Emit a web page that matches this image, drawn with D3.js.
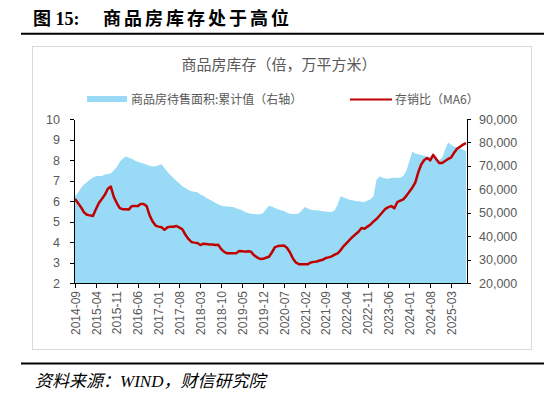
<!DOCTYPE html>
<html lang="zh-CN">
<head>
<meta charset="UTF-8">
<title>商品房库存处于高位</title>
<script src="https://d3js.org/d3.v7.min.js"></script>
<style>
    body { margin: 0; background: #fff; }
    svg { display: block; }
    .tick text { fill: #595959; font-family: "Liberation Sans", Arial, sans-serif; font-size: 12.5px; }
    .axis path, .axis line { stroke: #000; shape-rendering: crispEdges; }
</style>
</head>
<body>
<svg width="550" height="398"></svg>
<script>
// 月份：2014-09 至 2025-08
const startYear = 2014, startMonth = 9, monthCount = 132;
const months = d3.range(monthCount).map(i => {
    const m = startMonth - 1 + i;
    return (startYear + Math.floor(m / 12)) + "-" + String(m % 12 + 1).padStart(2, "0");
});

// 存销比（MA6），左轴，倍
const ratio = [
    6.10, 5.90, 5.70, 5.45, 5.33, 5.30, 5.27, 5.60, 5.90, 6.10,
    6.30, 6.60, 6.70, 6.20, 5.90, 5.65, 5.60, 5.60, 5.58, 5.75,
    5.76, 5.75, 5.85, 5.85, 5.75, 5.30, 5.00, 4.80, 4.75, 4.72,
    4.60, 4.72, 4.74, 4.74, 4.78, 4.70, 4.62, 4.35, 4.15, 4.00,
    3.97, 3.95, 3.85, 3.92, 3.90, 3.88, 3.88, 3.85, 3.86, 3.65,
    3.52, 3.45, 3.45, 3.45, 3.45, 3.56, 3.55, 3.53, 3.55, 3.52,
    3.35, 3.25, 3.17, 3.18, 3.23, 3.28, 3.50, 3.75, 3.80, 3.82,
    3.83, 3.72, 3.50, 3.20, 3.00, 2.92, 2.92, 2.92, 2.92, 3.00,
    3.03, 3.05, 3.10, 3.13, 3.22, 3.25, 3.30, 3.38, 3.45, 3.60,
    3.80, 3.95, 4.10, 4.25, 4.38, 4.50, 4.68, 4.65, 4.75, 4.85,
    5.00, 5.12, 5.28, 5.45, 5.62, 5.70, 5.75, 5.65, 5.95, 6.02,
    6.08, 6.25, 6.45, 6.65, 6.90, 7.40, 7.78, 8.00, 8.10, 7.98,
    8.25, 8.05, 7.85, 7.85, 7.95, 8.05, 8.12, 8.35, 8.55, 8.65,
    8.75, 8.82
];

// 商品房待售面积:累计值，右轴，万平方米
const area = [
    57000, 58500, 60500, 62000, 63000, 64200, 65000, 65600, 65700, 65700,
    66300, 66500, 66800, 68000, 69500, 71800, 73000, 74000, 73500, 73000,
    72300, 71800, 71300, 71000, 70500, 70000, 69700, 69800, 70300, 70700,
    69000, 67500, 66000, 64800, 63500, 62500, 61300, 60500, 59700, 59200,
    58900, 58700, 57800, 57200, 56400, 55600, 55000, 54200, 53600, 53000,
    52800, 52700, 52500, 52400, 51900, 51500, 51000, 50200, 49900, 49600,
    49400, 49300, 49300, 49900, 51500, 53000, 52600, 52000, 51500, 51000,
    50700, 50000, 49600, 49500, 49400, 49800, 51000, 52400, 51800, 51300,
    51100, 51000, 50800, 50600, 50500, 50300, 50300, 51000, 53500, 57000,
    56500, 56000, 55500, 55300, 55000, 54900, 54700, 54600, 55200, 55700,
    57000, 64000, 65500, 65000, 64600, 64500, 64800, 64900, 64900, 64900,
    65700, 67800, 72000, 76000, 75300, 75000, 74600, 74300, 74000, 73800,
    73500, 73000, 72500, 73500, 77000, 80000, 79000, 78300, 77900, 77400,
    76900, 76300
];

const leftTicks = [2, 3, 4, 5, 6, 7, 8, 9, 10];
const rightTicks = [20000, 30000, 40000, 50000, 60000, 70000, 80000, 90000];
const xTickLabels = months.filter((d, i) => i % 7 === 0);

const svg = d3.select("svg");
const margin = {top: 119, right: 84, bottom: 115, left: 74},
      width = 550 - margin.left - margin.right,
      height = 398 - margin.top - margin.bottom;

// 标题
svg.append("text")
    .attr("x", 33).attr("y", 25)
    .style("font-family", "'Liberation Serif', 'Noto Sans CJK SC', serif")
    .style("font-weight", "bold").style("font-size", "18px")
    .text("图 15:");
svg.append("text")
    .attr("x", 103).attr("y", 25)
    .style("font-family", "'Noto Sans CJK SC', sans-serif")
    .style("font-weight", "bold").style("font-size", "18px")
    .style("letter-spacing", "3px")
    .text("商品房库存处于高位");
svg.append("line")
    .attr("x1", 21).attr("x2", 544).attr("y1", 33.8).attr("y2", 33.8)
    .attr("stroke", "#000").attr("stroke-width", 2);

// 图表外框
svg.append("rect")
    .attr("x", 32.5).attr("y", 46.5).attr("width", 499).attr("height", 303)
    .attr("fill", "none").attr("stroke", "#d9d9d9");

svg.append("text")
    .attr("x", 279).attr("y", 70)
    .attr("text-anchor", "middle")
    .style("font-family", "'Noto Sans CJK SC', sans-serif")
    .style("font-size", "15px").style("fill", "#595959")
    .text("商品房库存（倍，万平方米）");

// 图例
svg.append("rect").attr("x", 87).attr("y", 96).attr("width", 40).attr("height", 6).attr("fill", "#99dbf6");
svg.append("text").attr("x", 131).attr("y", 104)
    .style("font-family", "'Noto Sans CJK SC', sans-serif").style("font-size", "12px").style("fill", "#595959")
    .text("商品房待售面积:累计值（右轴）");
svg.append("line").attr("x1", 350).attr("x2", 392).attr("y1", 99.5).attr("y2", 99.5)
    .attr("stroke", "#c00000").attr("stroke-width", 2);
svg.append("text").attr("x", 395).attr("y", 104)
    .style("font-family", "'Noto Sans CJK SC', sans-serif").style("font-size", "12px").style("fill", "#595959")
    .text("存销比（MA6）");

const g = svg.append("g").attr("transform", "translate(" + margin.left + "," + margin.top + ")");

const x = d3.scalePoint().domain(months).range([1, width]);
const yL = d3.scaleLinear().domain([2, 10]).range([height, 0]);
const yR = d3.scaleLinear().domain([20000, 90000]).range([height, 0]);

// 面积（右轴）
g.append("path")
    .datum(area)
    .attr("fill", "#99dbf6")
    .attr("d", d3.area().x((d, i) => x(months[i])).y0(height).y1(d => yR(d)));

// 存销比折线
g.append("path")
    .datum(ratio)
    .attr("fill", "none")
    .attr("stroke", "#c00000")
    .attr("stroke-width", 2.5)
    .attr("stroke-linejoin", "round")
    .attr("d", d3.line().x((d, i) => x(months[i])).y(d => yL(d)));

// 左轴
g.append("g").attr("class", "axis")
    .call(d3.axisLeft(yL).tickValues(leftTicks).tickSize(4).tickPadding(10).tickSizeOuter(0))
    .call(a => a.select(".domain").attr("stroke-width", 1.5));

// 右轴
g.append("g").attr("class", "axis")
    .attr("transform", "translate(" + (width + 1) + ",0)")
    .call(d3.axisRight(yR).tickValues(rightTicks).tickSize(4).tickPadding(8).tickSizeOuter(0)
        .tickFormat(d3.format(",")))
    .call(a => a.select(".domain").attr("stroke-width", 1.5));

// X轴
g.append("g").attr("class", "axis")
    .attr("transform", "translate(0," + height + ")")
    .call(d3.axisBottom(x).tickValues(xTickLabels).tickSize(5).tickSizeOuter(0))
    .call(a => a.select(".domain").attr("stroke-width", 1.5))
  .selectAll(".tick text")
    .attr("transform", "rotate(-90)")
    .attr("text-anchor", "end")
    .attr("x", -8).attr("y", 0).attr("dy", "0.35em")
    .style("font-size", "12px");

// 底部分隔线与资料来源
svg.append("line")
    .attr("x1", 21).attr("x2", 544).attr("y1", 363.5).attr("y2", 363.5)
    .attr("stroke", "#000").attr("stroke-width", 2);
svg.append("text")
    .attr("x", 35).attr("y", 387)
    .style("font-family", "'Liberation Serif', 'Noto Sans CJK SC', serif")
    .style("font-style", "italic").style("font-size", "17px")
    .text("资料来源：WIND，财信研究院");
</script>
</body>
</html>
